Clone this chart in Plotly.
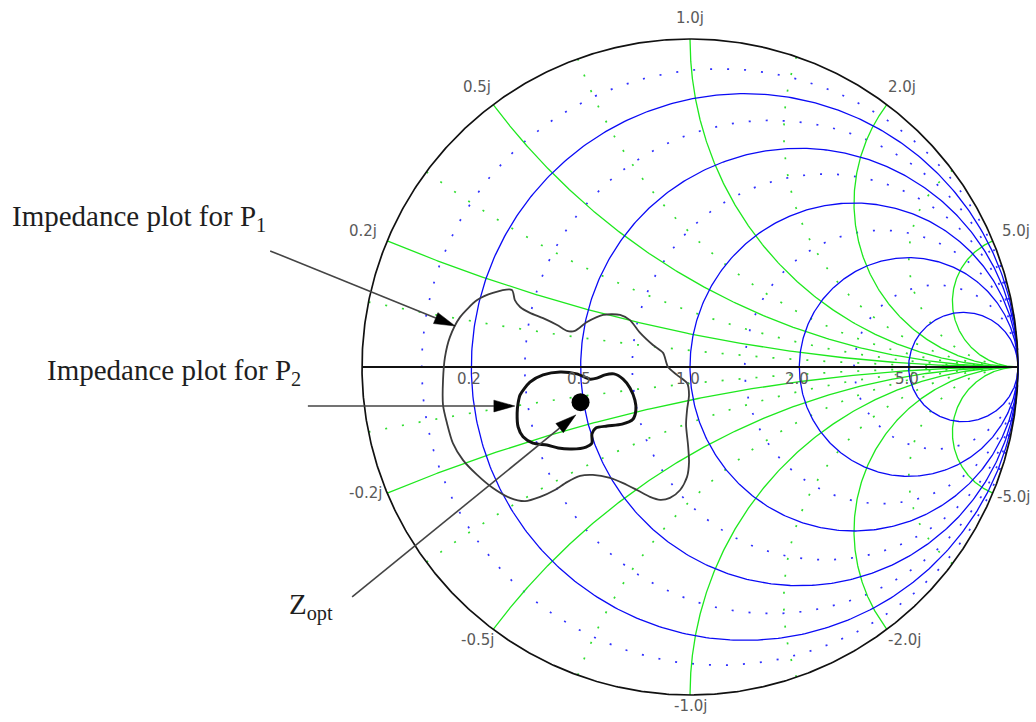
import numpy as np
import plotly.graph_objects as go

# ---- Smith chart grid values (normalised impedance) ----
r_major = [0.2, 0.5, 1.0, 2.0, 5.0]
x_major = [0.2, 0.5, 1.0, 2.0, 5.0]
r_minor = [0.1, 0.33, 0.7, 1.4, 3.0]
x_minor = [0.1, 0.33, 0.7, 1.4, 3.0]

r_labels = ["0.2", "0.5", "1.0", "2.0", "5.0"]
x_labels_pos = ["0.2j", "0.5j", "1.0j", "2.0j", "5.0j"]
x_labels_neg = ["-0.2j", "-0.5j", "-1.0j", "-2.0j", "-5.0j"]

# ---- Impedance contours, as reflection coefficient (real, imag) ----
p1_re = [-0.753, -0.747, -0.732, -0.701, -0.649, -0.601, -0.543, -0.534, -0.518,
         -0.488, -0.448, -0.405, -0.375, -0.351, -0.314, -0.265, -0.213, -0.183,
         -0.152, -0.113, -0.082, -0.067, -0.040, -0.009, -0.003, -0.009, -0.012,
         -0.006, -0.003, -0.009, -0.030, -0.061, -0.091, -0.122, -0.162, -0.204,
         -0.244, -0.296, -0.335, -0.375, -0.412, -0.457, -0.503, -0.549, -0.601,
         -0.649, -0.692, -0.723, -0.741, -0.753, -0.753]
p1_im = [-0.040, 0.030, 0.091, 0.152, 0.204, 0.226, 0.235, 0.204, 0.183,
         0.165, 0.149, 0.128, 0.110, 0.110, 0.137, 0.159, 0.159, 0.143,
         0.104, 0.067, 0.043, 0.000, -0.024, -0.049, -0.085, -0.131, -0.177,
         -0.238, -0.290, -0.335, -0.375, -0.399, -0.405, -0.396, -0.375, -0.354,
         -0.338, -0.329, -0.332, -0.351, -0.375, -0.396, -0.409, -0.399, -0.369,
         -0.329, -0.284, -0.232, -0.171, -0.116, -0.040]

p2_re = [-0.518, -0.488, -0.448, -0.396, -0.345, -0.305, -0.284, -0.259, -0.232,
         -0.204, -0.183, -0.168, -0.165, -0.174, -0.207, -0.253, -0.287, -0.299,
         -0.299, -0.317, -0.360, -0.402, -0.436, -0.479, -0.509, -0.524, -0.527,
         -0.524, -0.518]
p2_im = [-0.085, -0.046, -0.024, -0.015, -0.021, -0.037, -0.034, -0.024, -0.021,
         -0.037, -0.064, -0.101, -0.131, -0.159, -0.174, -0.180, -0.186, -0.204,
         -0.232, -0.244, -0.250, -0.247, -0.238, -0.232, -0.213, -0.183, -0.140,
         -0.110, -0.085]

# Optimum impedance (normalised)
z_opt = complex(0.49, -0.12)


def gamma(z):
    return (z - 1) / (z + 1)


def r_circle(r, n=500):
    th = np.linspace(0, 2 * np.pi, n)
    c, rad = r / (1 + r), 1 / (1 + r)
    return c + rad * np.cos(th), rad * np.sin(th)


def x_arc(x, t_max=1e4):
    t = np.concatenate([[0.0], np.logspace(-3, np.log10(t_max), 900)])
    g = gamma(t + 1j * x)
    return g.real, g.imag


BLUE = "#0a0af5"
GREEN = "#1ee81e"
BLUE_DOT = "#3030ff"
GREEN_DOT = "#30dd30"
LABEL = "#5a5a5a"
DOTS = "2px,15px"

fig = go.Figure()


def add_line(x, y, color, width, dash="solid"):
    fig.add_trace(go.Scatter(x=x, y=y, mode="lines", hoverinfo="skip",
                             line=dict(color=color, width=width, dash=dash)))


# minor (dotted) grid
for r in r_minor:
    add_line(*r_circle(r), BLUE_DOT, 1.7, DOTS)
for x in x_minor:
    for s in (1, -1):
        add_line(*x_arc(s * x, 30), GREEN_DOT, 1.7, DOTS)

# major grid
for x in x_major:
    for s in (1, -1):
        add_line(*x_arc(s * x), GREEN, 1.3)
for r in r_major:
    add_line(*r_circle(r), BLUE, 1.3)

# outer boundary and real axis
add_line(*r_circle(0.0, 900), "#111111", 1.7)
add_line([-1, 1], [0, 0], "#111111", 1.8)

# impedance contours
fig.add_trace(go.Scatter(x=p1_re, y=p1_im, mode="lines", hoverinfo="skip",
                         line=dict(color="#3c3c3c", width=1.8, shape="spline", smoothing=0.7)))
fig.add_trace(go.Scatter(x=p2_re, y=p2_im, mode="lines", hoverinfo="skip",
                         line=dict(color="#111111", width=3.0, shape="spline", smoothing=0.7)))

g_opt = gamma(z_opt)
fig.add_trace(go.Scatter(x=[g_opt.real], y=[g_opt.imag], mode="markers", hoverinfo="skip",
                         marker=dict(color="#000000", size=18)))

annotations = []
shapes = []
TICK_FONT = dict(family="DejaVu Sans", size=15, color=LABEL)

# resistance labels on the real axis
for r, lab in zip(r_major, r_labels):
    g = gamma(complex(r, 0))
    annotations.append(dict(x=g.real, y=0, text=lab, showarrow=False, xshift=-2, yshift=-12,
                            font=TICK_FONT))

# reactance labels at the rim
pos_shift = [(-24, 10), (-16, 18), (0, 21), (15, 18), (23, 10)]
neg_shift = [(-22, 0), (-16, -11), (0, -11), (18, -11), (21, -4)]
for x, lab, (dx, dy) in zip(x_major, x_labels_pos, pos_shift):
    g = gamma(complex(0, x))
    annotations.append(dict(x=g.real, y=g.imag, text=lab, showarrow=False, xshift=dx, yshift=dy,
                            font=TICK_FONT))
for x, lab, (dx, dy) in zip(x_major, x_labels_neg, neg_shift):
    g = gamma(complex(0, -x))
    annotations.append(dict(x=g.real, y=g.imag, text=lab, showarrow=False, xshift=dx, yshift=dy,
                            font=TICK_FONT))

# callout captions
CAPTION = dict(family="Liberation Serif", size=29, color="#1e1e1e")
annotations.append(dict(x=-2.073, y=0.454, text="Impedance plot for P<sub>1</sub>", showarrow=False,
                        xanchor="left", yanchor="middle", font=CAPTION))
annotations.append(dict(x=-1.966, y=-0.015, text="Impedance plot for P<sub>2</sub>", showarrow=False,
                        xanchor="left", yanchor="middle", font=CAPTION))
annotations.append(dict(x=-1.229, y=-0.729, text="Z<sub>opt</sub>", showarrow=False,
                        xanchor="left", yanchor="middle", font=CAPTION))

# callout arrows: (start, tip)
arrows = [((-1.280, 0.354), (-0.716, 0.125)),
          ((-1.165, -0.119), (-0.534, -0.119)),
          ((-1.030, -0.701), (-0.348, -0.146))]
HEAD_LEN, HEAD_HALF = 0.064, 0.018
for (x0, y0), (x1, y1) in arrows:
    d = np.array([x1 - x0, y1 - y0])
    d = d / np.hypot(*d)
    n = np.array([-d[1], d[0]])
    base = np.array([x1, y1]) - HEAD_LEN * d
    shapes.append(dict(type="line", x0=x0, y0=y0, x1=base[0], y1=base[1],
                       line=dict(color="#444444", width=1.6)))
    a = base + HEAD_HALF * n
    b = base - HEAD_HALF * n
    shapes.append(dict(type="path",
                       path=f"M{x1},{y1} L{a[0]},{a[1]} L{b[0]},{b[1]} Z",
                       fillcolor="#000000", line=dict(color="#000000", width=0.5)))

fig.update_layout(
    width=1036, height=722,
    margin=dict(l=0, r=0, t=0, b=0),
    paper_bgcolor="white", plot_bgcolor="white",
    showlegend=False,
    xaxis=dict(range=[-2.10366, 1.05488], visible=False, fixedrange=True),
    yaxis=dict(range=[-1.08232, 1.11890], visible=False, fixedrange=True),
    annotations=annotations,
    shapes=shapes,
)

fig.write_html("out.html")
